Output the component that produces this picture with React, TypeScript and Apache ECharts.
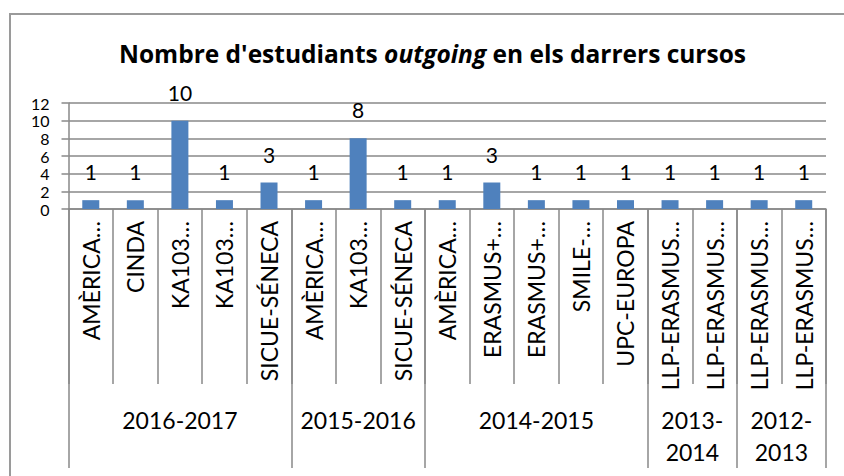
import React, { useEffect, useRef } from "react";
import * as echarts from "echarts";

const categories = [
  "AMÈRICA…", "CINDA", "KA103…", "KA103…", "SICUE-SÉNECA",
  "AMÈRICA…", "KA103…", "SICUE-SÉNECA",
  "AMÈRICA…", "ERASMUS+…", "ERASMUS+…", "SMILE-…", "UPC-EUROPA",
  "LLP-ERASMUS…", "LLP-ERASMUS…",
  "LLP-ERASMUS…", "LLP-ERASMUS…",
];
const values = [1, 1, 10, 1, 3, 1, 8, 1, 1, 3, 1, 1, 1, 1, 1, 1, 1];
const groupLabels = ["2016-2017", "2015-2016", "2014-2015", "2013-2014", "2012-2013"];
const groupSizes = [5, 3, 5, 2, 2];
const yTicks = { min: 0, max: 12, interval: 2 };

const FONT = "Lato";
const TITLE_FONT = "Open Sans";
const GRAY = "#888888";

export default function App() {
  const ref = useRef<HTMLDivElement>(null);
  useEffect(() => {
    if (!ref.current) return;
    const chart = echarts.init(ref.current, undefined, { renderer: "svg" });

    const n = categories.length;
    const halfData = Array.from({ length: 2 * n + 1 }, (_, i) => String(i));
    const boundaries = new Set<number>();
    const labelAt: Record<number, string> = {};
    let start = 0;
    boundaries.add(0);
    groupSizes.forEach((size, gi) => {
      labelAt[2 * start + size] =
        size <= 2 ? groupLabels[gi].replace("-", "-\n") : groupLabels[gi];
      start += size;
      boundaries.add(2 * start);
    });

    chart.setOption({
      animation: false,
      backgroundColor: "#ffffff",
      title: {
        text: "{b|Nombre d'estudiants }{i|outgoing}{b| en els darrers cursos}",
        left: 119,
        top: 39,
        padding: 0,
        textStyle: {
          rich: {
            b: { fontFamily: TITLE_FONT, fontWeight: "bold", fontSize: 24.5, lineHeight: 28, color: "#000" },
            i: { fontFamily: TITLE_FONT, fontWeight: "bold", fontStyle: "italic", fontSize: 24.5, lineHeight: 28, color: "#000" },
          },
        },
      },
      graphic: [
        {
          type: "rect",
          shape: { x: 10, y: 14, width: 900, height: 600 },
          style: { fill: "none", stroke: "#9a9a9a", lineWidth: 2 },
          silent: true,
        },
      ],
      grid: { left: 68.5, right: 18, top: 103, bottom: 267, containLabel: false },
      xAxis: [
        {
          type: "category",
          data: categories,
          axisLine: { show: true, lineStyle: { color: GRAY, width: 1.5 } },
          axisTick: { show: true, interval: 0, length: 175, lineStyle: { color: GRAY, width: 1.5 } },
          axisLabel: {
            interval: 0,
            rotate: 90,
            margin: 12,
            fontFamily: FONT,
            fontSize: 23,
            color: "#000",
          },
        },
        {
          type: "category",
          data: halfData,
          boundaryGap: false,
          position: "bottom",
          axisLine: { show: false },
          axisTick: {
            show: true,
            length: 259,
            interval: (index: number) => boundaries.has(index),
            lineStyle: { color: GRAY, width: 1.5 },
          },
          axisLabel: {
            interval: 0,
            margin: 195,
            fontFamily: FONT,
            fontSize: 23,
            lineHeight: 32,
            color: "#000",
            formatter: (_v: string, index: number) => labelAt[index] || "",
          },
        },
      ],
      yAxis: {
        type: "value",
        min: yTicks.min,
        max: yTicks.max,
        interval: yTicks.interval,
        axisLine: { show: true, lineStyle: { color: GRAY, width: 1.5 } },
        axisTick: { show: true, length: 7, lineStyle: { color: GRAY, width: 1.5 } },
        splitLine: { show: true, lineStyle: { color: GRAY, width: 1.5 } },
        axisLabel: {
          margin: 19,
          fontFamily: FONT,
          fontSize: 16,
          lineHeight: 16,
          color: "#000",
        },
      },
      series: [
        {
          type: "bar",
          data: values,
          xAxisIndex: 0,
          barWidth: 17,
          itemStyle: { color: "#4f81bd" },
          label: {
            show: true,
            position: "top",
            distance: 18,
            fontFamily: FONT,
            fontSize: 21,
            color: "#000",
          },
        },
      ],
    });
    return () => chart.dispose();
  }, []);
  return (
    <div
      ref={ref}
      style={{ position: "absolute", left: 0, top: 0, width: 844, height: 476, background: "#fff" }}
    />
  );
}
